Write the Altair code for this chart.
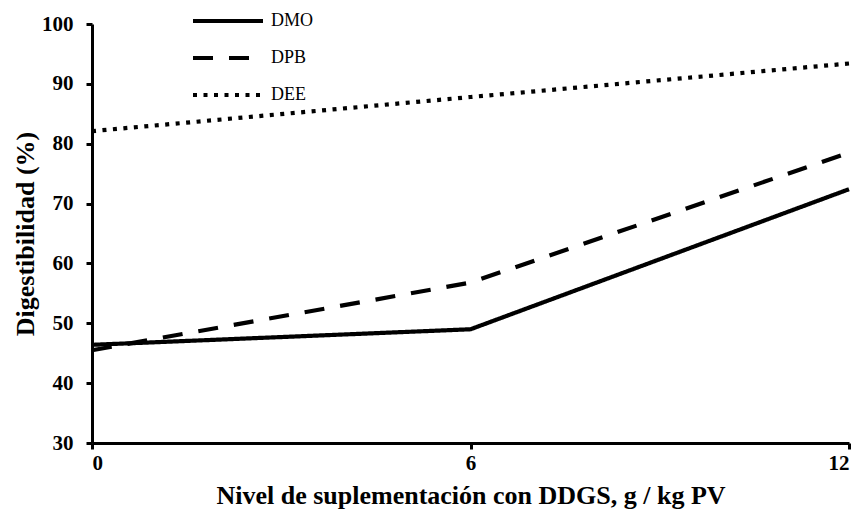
import altair as alt
import pandas as pd

x_levels = [0, 6, 12]
series = ["DMO", "DPB", "DEE"]
dmo = [46.4, 49.0, 72.4]
dpb = [45.5, 56.8, 78.5]
dee = [82.1, 87.8, 93.4]

rows = []
for name, vals in zip(series, [dmo, dpb, dee]):
    for xv, yv in zip(x_levels, vals):
        rows.append({"nivel": xv, "dig": yv, "serie": name})
df = pd.DataFrame(rows)

FONT = "Liberation Serif"

chart = alt.Chart(df).mark_line(color="black", strokeWidth=4.2, strokeCap="butt").encode(
    x=alt.X("nivel:Q",
            scale=alt.Scale(domain=[0, 12], nice=False, zero=False),
            axis=alt.Axis(values=[0, 6, 12], title="Nivel de suplementación con DDGS, g / kg PV",
                          format="d", labelPadding=3, titlePadding=9)),
    y=alt.Y("dig:Q",
            scale=alt.Scale(domain=[30, 100], nice=False, zero=False),
            axis=alt.Axis(values=[30, 40, 50, 60, 70, 80, 90, 100], title="Digestibilidad (%)",
                          labelPadding=13, titlePadding=3)),
    strokeDash=alt.StrokeDash("serie:N",
                              scale=alt.Scale(domain=series, range=[[1, 0], [20, 16], [4, 6.5]]),
                              legend=alt.Legend(title=None, orient="none", legendX=116, legendY=-23,
                                                symbolSize=1225, symbolType="M-2,0H2",
                                                symbolStrokeWidth=4.2, symbolStrokeColor="black",
                                                labelFont=FONT, labelFontSize=18, labelColor="black",
                                                labelOffset=23, rowPadding=8, padding=0)),
    detail="serie:N",
).properties(
    width=757, height=419,
    autosize=alt.AutoSizeParams(type="none"),
    padding={"left": 84, "right": 5, "top": 16, "bottom": 70},
).configure_view(stroke=None).configure_axis(
    grid=False,
    domainColor="black", domainWidth=3,
    tickColor="black", tickWidth=3, tickSize=6,
    labelFont=FONT, labelFontSize=21, labelFontWeight="bold", labelColor="black",
    titleFont=FONT, titleFontSize=26, titleFontWeight="bold", titleColor="black",
)

chart.save("out.html", embed_options={"renderer": "svg", "actions": False})
